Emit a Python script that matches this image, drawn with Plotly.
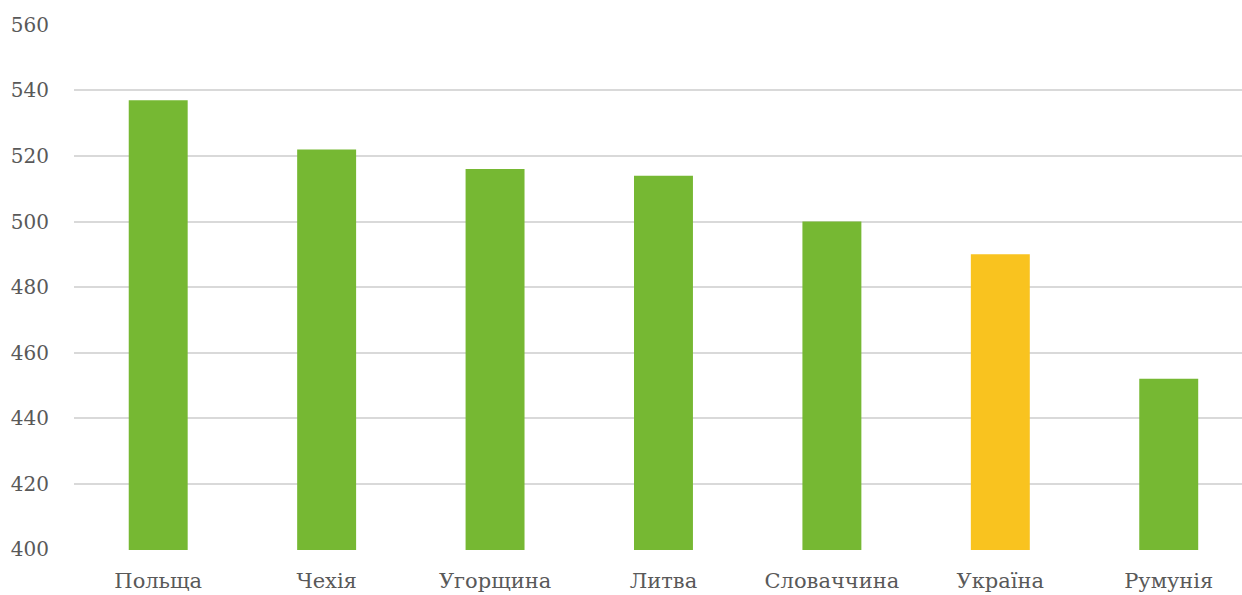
import plotly.graph_objects as go

countries = ["Польща", "Чехія", "Угорщина", "Литва", "Словаччина", "Україна", "Румунія"]
scores = [537, 522, 516, 514, 500, 490, 452]
colors = ["#76B833", "#76B833", "#76B833", "#76B833", "#76B833", "#F9C31F", "#76B833"]
y_ticks = [400, 420, 440, 460, 480, 500, 520, 540, 560]

fig = go.Figure(go.Bar(
    x=list(range(len(countries))), y=scores,
    marker=dict(color=colors, line=dict(width=0)),
    width=0.35,
))

font_family = "DejaVu Serif"
fig.update_layout(
    width=1242, height=595,
    margin=dict(l=73.5, r=0, t=23.5, b=44.5, autoexpand=False),
    paper_bgcolor="white", plot_bgcolor="white",
    showlegend=False,
    font=dict(family=font_family, color="#595959", size=20),
    xaxis=dict(
        tickmode="array", tickvals=list(range(len(countries))), ticktext=countries,
        range=[-0.5, 6.435], showgrid=False, zeroline=False, showline=False,
        ticks="", ticklabelstandoff=16, tickfont=dict(size=21), automargin=False,
    ),
    yaxis=dict(
        range=[399.7, 560.3], tickvals=y_ticks, showgrid=True, gridcolor="#D9D9D9",
        gridwidth=2, zeroline=False, showline=False, ticks="", ticklabelstandoff=24,
        automargin=False,
    ),
)
fig.write_html(
    "out.html",
    config={"displayModeBar": False},
    post_script="document.body.style.margin='0';document.body.style.overflow='hidden';",
)
